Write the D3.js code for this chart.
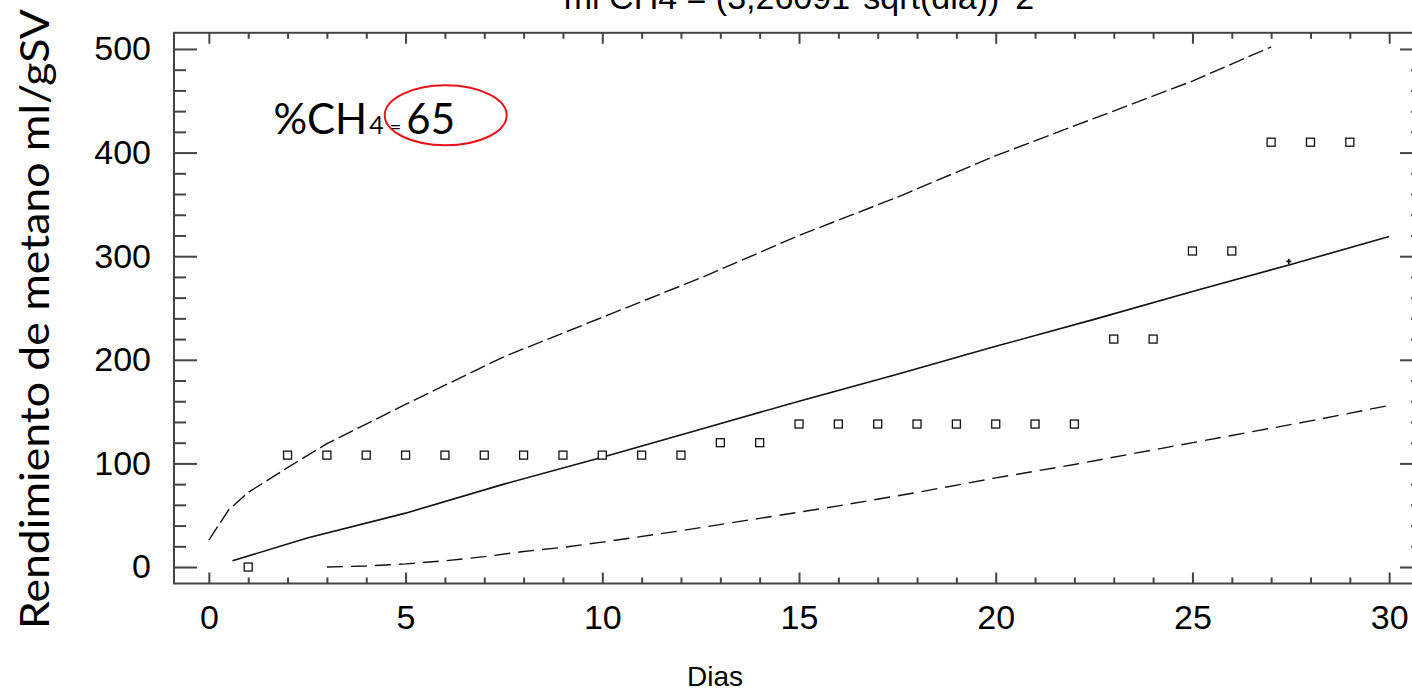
<!DOCTYPE html>
<html>
<head>
<meta charset="utf-8">
<script src="https://cdn.jsdelivr.net/npm/d3@7"></script>
<style>
  body { margin: 0; background: #fff; }
  svg { display: block; }
</style>
</head>
<body>
<svg id="chart" width="1412" height="691"></svg>
<script>
// observed methane yield (squares)
const days = [1, 2, 3, 4, 5, 6, 7, 8, 9, 10, 11, 12, 13, 14, 15, 16, 17, 18, 19, 20, 21, 22, 23, 24, 25, 26, 27, 28, 29];
const observed = [0, 108, 108, 108, 108, 108, 108, 108, 108, 108, 108, 108, 120, 120, 138, 138, 138, 138, 138, 138, 138, 138, 220, 220, 305, 305, 410, 410, 410];

// fitted model (solid)
const fitDays = [0.6, 2.5, 5, 7.5, 10, 12.5, 15, 17.5, 20, 22.5, 25, 27.5, 30];
const fitVals = [6, 28, 52, 80, 106, 133, 160, 186, 213, 239, 266, 292, 319];

// upper limit (dashed)
const upperDays = [0, 0.5, 1, 2, 3, 5, 7.5, 10, 12.5, 15, 17.5, 20, 22.5, 25, 27];
const upperVals = [26, 55, 72, 96, 119, 157, 203, 241, 279, 320, 357, 397, 433, 469, 502];

// lower limit (dashed)
const lowerDays = [3, 4, 5, 6, 7, 8, 9, 10, 12, 14, 16, 18, 20, 22, 24, 26, 28, 30];
const lowerVals = [0, 1, 3, 6, 10, 15, 19, 24, 35, 47, 59, 72, 86, 99, 113, 127, 141, 156];

// stray cursor mark
const crossDay = [27.45];
const crossVal = [295];

const xMajor = [0, 5, 10, 15, 20, 25, 30];
const yMajor = [0, 100, 200, 300, 400, 500];

const svg = d3.select("#chart");

const x = d3.scaleLinear().domain([-0.886, 30.86]).range([174, 1423]);
const y = d3.scaleLinear().domain([-15.9, 515.6]).range([583.5, 32.8]);

const axisColor = "#444";
const tickFont = "'Liberation Sans', Arial, sans-serif";

// title (cut off at the top, as in the source)
svg.append("text")
    .attr("x", 799)
    .attr("y", 9)
    .attr("text-anchor", "middle")
    .style("font-family", tickFont)
    .style("font-size", "34px")
    .text("ml CH4 = (3,26091*sqrt(dia))^2");

// frame
svg.append("rect")
    .attr("x", x.range()[0])
    .attr("y", y.range()[1])
    .attr("width", x.range()[1] - x.range()[0])
    .attr("height", y.range()[0] - y.range()[1])
    .style("fill", "none")
    .style("stroke", axisColor)
    .style("stroke-width", 2);

let xMinor = d3.range(0, 31, 1).filter(function(d){ return d % 5 != 0; });
let yMinor = d3.range(0, 501, 20).filter(function(d){ return d % 100 != 0; });

function styleAxis(g){
    g.select(".domain").remove();
    g.selectAll(".tick line").style("stroke", axisColor).style("stroke-width", 2);
    g.selectAll("text")
        .style("font-family", tickFont)
        .style("font-size", "34px")
        .style("fill", "#000");
}

// bottom
svg.append("g")
    .attr("transform", "translate(0," + y.range()[0] + ")")
    .call(d3.axisBottom(x).tickValues(xMajor).tickSize(-11).tickPadding(21).tickFormat(d3.format("d")))
    .call(styleAxis);
svg.append("g")
    .attr("transform", "translate(0," + y.range()[0] + ")")
    .call(d3.axisBottom(x).tickValues(xMinor).tickSize(-6).tickFormat(""))
    .call(styleAxis);

// top
svg.append("g")
    .attr("transform", "translate(0," + y.range()[1] + ")")
    .call(d3.axisTop(x).tickValues(xMajor).tickSize(-11).tickFormat(""))
    .call(styleAxis);
svg.append("g")
    .attr("transform", "translate(0," + y.range()[1] + ")")
    .call(d3.axisTop(x).tickValues(xMinor).tickSize(-6).tickFormat(""))
    .call(styleAxis);

// left
svg.append("g")
    .attr("transform", "translate(" + x.range()[0] + ",0)")
    .call(d3.axisLeft(y).tickValues(yMajor).tickSize(-23).tickPadding(23).tickFormat(d3.format("d")))
    .call(styleAxis);
svg.append("g")
    .attr("transform", "translate(" + x.range()[0] + ",0)")
    .call(d3.axisLeft(y).tickValues(yMinor).tickSize(-12).tickFormat(""))
    .call(styleAxis);

// right (frame edge lies just outside the picture)
svg.append("g")
    .attr("transform", "translate(" + x.range()[1] + ",0)")
    .call(d3.axisRight(y).tickValues(yMajor).tickSize(-23).tickFormat(""))
    .call(styleAxis);
svg.append("g")
    .attr("transform", "translate(" + x.range()[1] + ",0)")
    .call(d3.axisRight(y).tickValues(yMinor).tickSize(-12).tickFormat(""))
    .call(styleAxis);

// lines
let line = d3.line()
    .x(function(d){ return x(d[0]); })
    .y(function(d){ return y(d[1]); });

svg.append("path")
    .datum(d3.zip(fitDays, fitVals))
    .attr("d", line)
    .style("fill", "none")
    .style("stroke", "#111")
    .style("stroke-width", 1.6);

svg.append("path")
    .datum(d3.zip(upperDays, upperVals))
    .attr("d", line)
    .style("fill", "none")
    .style("stroke", "#111")
    .style("stroke-width", 1.4)
    .style("stroke-dasharray", "16,5");

svg.append("path")
    .datum(d3.zip(lowerDays, lowerVals))
    .attr("d", line)
    .style("fill", "none")
    .style("stroke", "#111")
    .style("stroke-width", 1.4)
    .style("stroke-dasharray", "16,8");

// observed squares
svg.append("g").selectAll("rect")
    .data(d3.zip(days, observed))
    .enter().append("rect")
    .attr("x", function(d){ return x(d[0]) - 4; })
    .attr("y", function(d){ return y(d[1]) - 4; })
    .attr("width", 8)
    .attr("height", 8)
    .style("fill", "#fff")
    .style("stroke", "#111")
    .style("stroke-width", 1.3);

// tiny cross
svg.append("g").selectAll("path")
    .data(d3.zip(crossDay, crossVal))
    .enter().append("path")
    .attr("transform", function(d){ return "translate(" + x(d[0]) + "," + y(d[1]) + ")"; })
    .attr("d", d3.symbol().type(d3.symbolCross).size(14))
    .style("fill", "#111");

// x axis title
svg.append("text")
    .attr("x", 715)
    .attr("y", 686)
    .attr("text-anchor", "middle")
    .style("font-family", tickFont)
    .style("font-size", "28px")
    .text("Dias");

// y axis title
svg.append("text")
    .attr("transform", "translate(49,319) rotate(-90)")
    .attr("text-anchor", "middle")
    .attr("textLength", 620)
    .attr("lengthAdjust", "spacingAndGlyphs")
    .style("font-family", "Lato, 'Open Sans', sans-serif")
    .style("font-size", "41px")
    .text("Rendimiento de metano ml/gSV");

// %CH4 annotation
const noteDay = 1.64, noteVal = 418;
let note = svg.append("text")
    .attr("x", x(noteDay))
    .attr("y", y(noteVal))
    .style("font-family", "Lato, 'Open Sans', sans-serif")
    .style("fill", "#000");
note.append("tspan").style("font-size", "42px").text("%CH");
note.append("tspan").style("font-size", "25px").attr("dx", 2).text("4");
note.append("tspan").style("font-size", "20px").attr("dx", 6).text("=");
note.append("tspan").style("font-size", "42px").attr("dx", 5).text("65");

svg.append("ellipse")
    .attr("cx", x(6.02))
    .attr("cy", y(436))
    .attr("rx", 61)
    .attr("ry", 30)
    .style("fill", "none")
    .style("stroke", "#e8141b")
    .style("stroke-width", 2);
</script>
</body>
</html>
